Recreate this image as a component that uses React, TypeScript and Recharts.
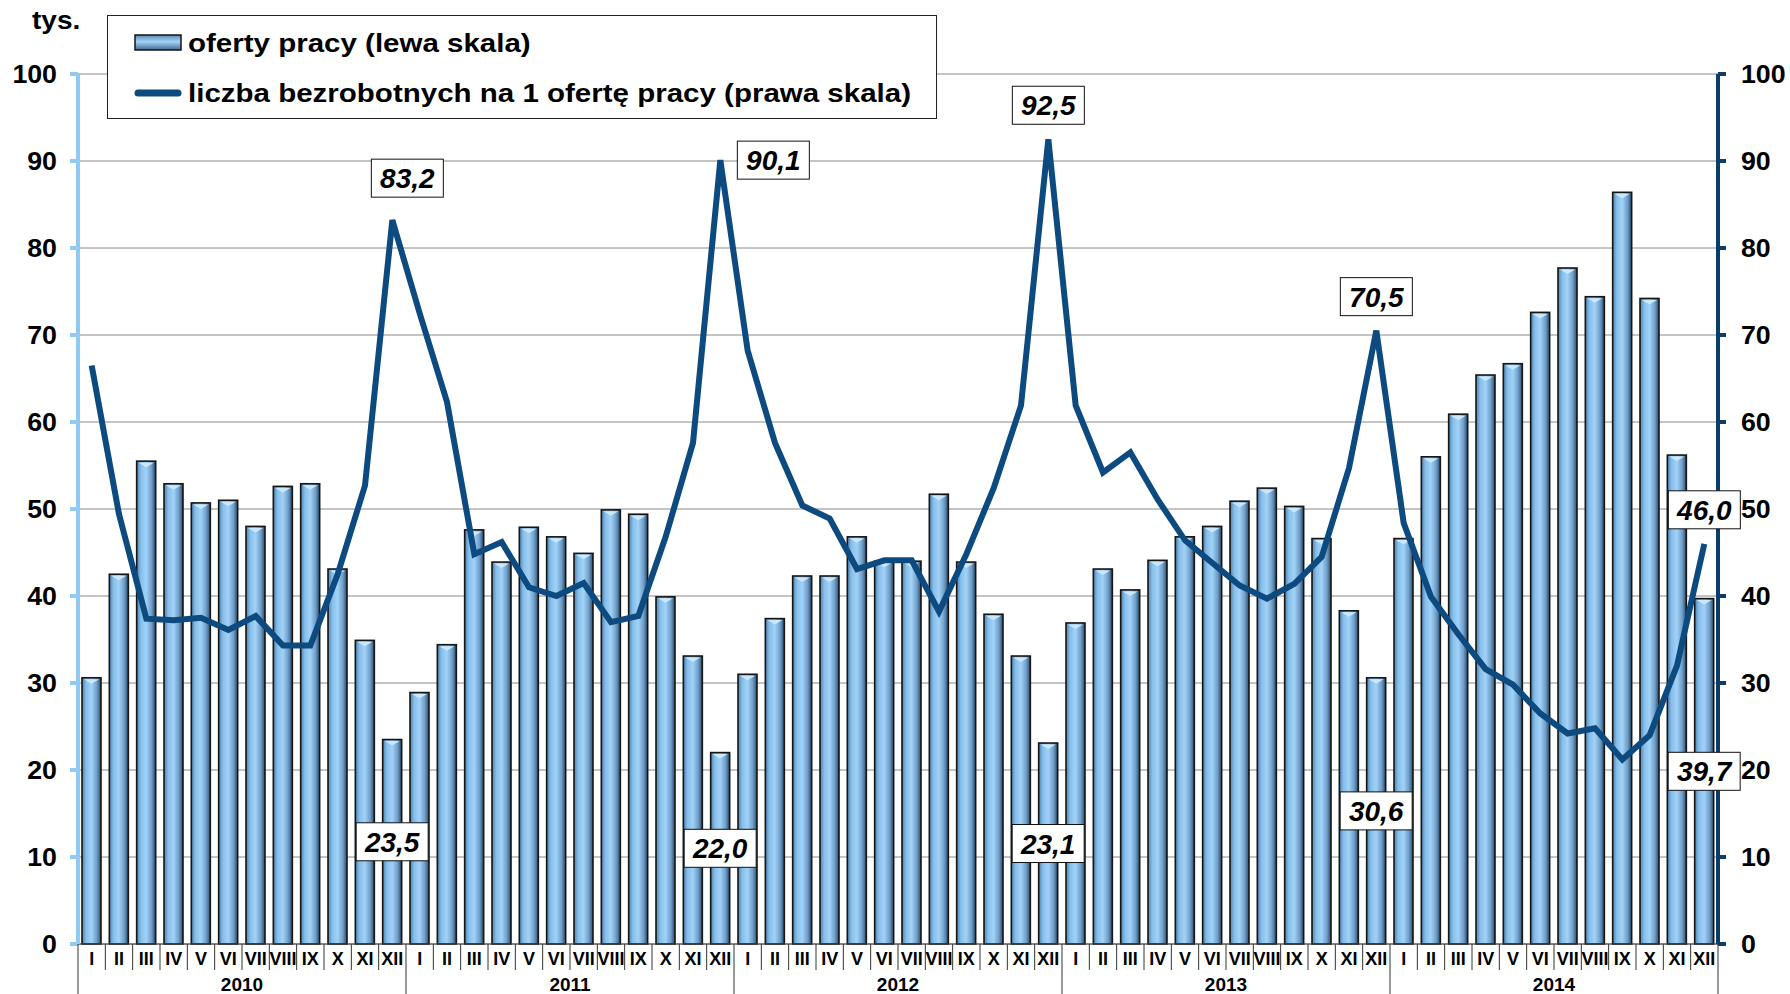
import React from 'react';
import {
  ComposedChart,
  Bar,
  Line,
  XAxis,
  YAxis,
  CartesianGrid,
  Legend,
  LabelList,
} from 'recharts';

const months = ['I', 'II', 'III', 'IV', 'V', 'VI', 'VII', 'VIII', 'IX', 'X', 'XI', 'XII'];
const years = ['2010', '2011', '2012', '2013', '2014'];

// oferty pracy, tys. (lewa skala)
const jobOffers = [
  30.6, 42.5, 55.5, 52.9, 50.7, 51.0, 48.0, 52.6, 52.9, 43.1, 34.9, 23.5,
  28.9, 34.4, 47.6, 43.9, 47.9, 46.8, 44.9, 49.9, 49.4, 39.9, 33.1, 22.0,
  31.0, 37.4, 42.3, 42.3, 46.8, 44.0, 44.0, 51.7, 43.9, 37.9, 33.1, 23.1,
  36.9, 43.1, 40.7, 44.1, 46.8, 48.0, 50.9, 52.4, 50.3, 46.6, 38.3, 30.6,
  46.6, 56.0, 60.9, 65.4, 66.7, 72.6, 77.7, 74.4, 86.4, 74.2, 56.2, 39.7,
];

// liczba bezrobotnych na 1 ofertę pracy (prawa skala)
const unemployedPerOffer = [
  66.5, 49.4, 37.4, 37.2, 37.5, 36.1, 37.7, 34.3, 34.3, 42.5, 52.7, 83.2,
  72.5, 62.3, 44.8, 46.2, 41.0, 40.0, 41.5, 37.0, 37.7, 46.8, 57.6, 90.1,
  68.2, 57.6, 50.4, 48.9, 43.1, 44.1, 44.1, 38.2, 44.8, 52.4, 61.9, 92.5,
  61.9, 54.2, 56.5, 51.1, 46.4, 43.8, 41.2, 39.7, 41.4, 44.5, 54.7, 70.5,
  48.4, 39.9, 35.6, 31.6, 29.8, 26.5, 24.2, 24.8, 21.2, 24.0, 32.0, 46.0,
];

const axisTicks = [0, 10, 20, 30, 40, 50, 60, 70, 80, 90, 100];

const data = jobOffers.map((v, i) => ({
  id: `${years[Math.floor(i / 12)]}-${months[i % 12]}`,
  month: months[i % 12],
  year: years[Math.floor(i / 12)],
  offers: v,
  ratio: unemployedPerOffer[i],
}));

const W = 1790;
const H = 994;
const LEFT_W = 78;
const RIGHT_W = 72;
const TOP = 74;
const X_H = 50;
const bandWidth = (W - LEFT_W - RIGHT_W) / data.length;

const FONT = '"Liberation Sans", Arial, sans-serif';
const LINE_COLOR = '#0c4a7f';

const fmt = (v: number) => v.toFixed(1).replace('.', ',');
const isDecember = (i: number) => i % 12 === 11;

// nudges for the boxed labels on the line
const lineLabelShift: Record<number, { dx: number; dy: number }> = {
  11: { dx: 15, dy: -42 },
  23: { dx: 53, dy: 0 },
};

const ValueBox = ({ cx, cy, text }: { cx: number; cy: number; text: string }) => (
  <g>
    <rect x={cx - 36} y={cy - 19} width={72} height={38} fill="#fff" stroke="#111" strokeWidth={1} />
    <text
      x={cx}
      y={cy + 10}
      textAnchor="middle"
      fontFamily={FONT}
      fontWeight="bold"
      fontStyle="italic"
      fontSize={28}
      fill="#000"
    >
      {text}
    </text>
  </g>
);

const LineLabel = (props: any) => {
  const { x, y, value, index } = props;
  if (!isDecember(index)) return null;
  const s = lineLabelShift[index] || { dx: 0, dy: -34 };
  return <ValueBox cx={x + s.dx} cy={y + s.dy} text={fmt(value)} />;
};

const BarLabel = (props: any) => {
  const { x, y, width, height, value, index } = props;
  if (!isDecember(index)) return null;
  return <ValueBox cx={x + width / 2} cy={y + height / 2} text={fmt(value)} />;
};

const BarShape = (props: any) => {
  const { x, y, width, height } = props;
  if (!height || height <= 0) return null;
  return (
    <g>
      <rect x={x} y={y} width={width} height={height} fill="url(#barGrad)" stroke="#151515" strokeWidth={1.6} />
      <polygon
        points={`${x + 2},${y + 1.5} ${x + width - 2},${y + 1.5} ${x + width / 2},${y + 6}`}
        fill="#c9e8fc"
      />
    </g>
  );
};

const AxisTick = (props: any) => {
  const { x, y, payload, textAnchor } = props;
  return (
    <text
      x={x}
      y={y + 9}
      textAnchor={textAnchor}
      fontFamily={FONT}
      fontWeight="bold"
      fontSize={25}
      fill="#000"
      transform={`translate(${x} 0) scale(1.07 1) translate(${-x} 0)`}
    >
      {payload.value}
    </text>
  );
};

const MonthTick = (props: any) => {
  const { x, y, payload, index } = props;
  const i = typeof index === 'number' ? index : payload.index;
  const d = data[i];
  if (!d) return null;
  const left = x - bandWidth / 2;
  const right = x + bandWidth / 2;
  const yearStart = i % 12 === 0;
  const last = i === data.length - 1;
  return (
    <g>
      <line x1={left} y1={y} x2={left} y2={y + (yearStart ? 50 : 26)} stroke="#333" strokeWidth={1} />
      {last && <line x1={right} y1={y} x2={right} y2={y + 50} stroke="#333" strokeWidth={1} />}
      <text x={x} y={y + 21} textAnchor="middle" fontFamily={FONT} fontWeight="bold" fontSize={18} fill="#000">
        {d.month}
      </text>
      {i % 12 === 5 && (
        <text x={right} y={y + 47} textAnchor="middle" fontFamily={FONT} fontWeight="bold" fontSize={19} fill="#000">
          {d.year}
        </text>
      )}
    </g>
  );
};

const stretched: React.CSSProperties = {
  display: 'inline-block',
  transform: 'scaleX(1.18)',
  transformOrigin: 'left center',
  whiteSpace: 'nowrap',
};

const LegendBox = () => (
  <div
    style={{
      width: 830,
      height: 104,
      border: '1.5px solid #222',
      background: '#fff',
      fontFamily: FONT,
      fontWeight: 'bold',
      fontSize: 25,
      color: '#000',
      boxSizing: 'border-box',
    }}
  >
    <div style={{ display: 'flex', alignItems: 'center', height: 54, paddingLeft: 26 }}>
      <svg width={50} height={20} style={{ marginRight: 4 }}>
        <defs>
          <linearGradient id="legendGrad" x1="0" y1="0" x2="0" y2="1">
            <stop offset="0%" stopColor="#5c8cb8" />
            <stop offset="45%" stopColor="#a4d3f5" />
            <stop offset="100%" stopColor="#3f6a92" />
          </linearGradient>
        </defs>
        <rect x={1} y={2} width={46} height={15} fill="url(#legendGrad)" stroke="#151515" strokeWidth={1.5} />
      </svg>
      <span style={stretched}>oferty pracy (lewa skala)</span>
    </div>
    <div style={{ display: 'flex', alignItems: 'center', height: 46, paddingLeft: 26 }}>
      <svg width={50} height={20} style={{ marginRight: 4 }}>
        <line x1={4} y1={10} x2={44} y2={10} stroke={LINE_COLOR} strokeWidth={7} strokeLinecap="round" />
      </svg>
      <span style={stretched}>liczba bezrobotnych na 1 ofertę pracy (prawa skala)</span>
    </div>
  </div>
);

export default function App() {
  return (
    <div style={{ position: 'absolute', left: 0, top: 0, width: W, height: H, background: '#fff' }}>
      <div
        style={{
          position: 'absolute',
          left: 32,
          top: 6,
          fontFamily: FONT,
          fontWeight: 'bold',
          fontSize: 25,
          zIndex: 2,
          transform: 'scaleX(1.12)',
          transformOrigin: 'left center',
        }}
      >
        tys.
      </div>
      <ComposedChart
        width={W}
        height={H}
        data={data}
        margin={{ top: TOP, right: 0, bottom: 0, left: 0 }}
        barSize={19}
      >
        <defs>
          <linearGradient id="barGrad" x1="0" y1="0" x2="1" y2="0">
            <stop offset="0%" stopColor="#4f7fac" />
            <stop offset="22%" stopColor="#86bfeb" />
            <stop offset="50%" stopColor="#a2d2f6" />
            <stop offset="78%" stopColor="#6f9fca" />
            <stop offset="100%" stopColor="#2c4a68" />
          </linearGradient>
        </defs>
        <CartesianGrid vertical={false} stroke="#8a8a8a" strokeWidth={1} yAxisId="left" />
        <XAxis
          dataKey="id"
          height={X_H}
          interval={0}
          tick={<MonthTick />}
          tickLine={false}
          tickSize={0}
          tickMargin={0}
          axisLine={{ stroke: '#444', strokeWidth: 1 }}
        />
        <YAxis
          yAxisId="left"
          orientation="left"
          width={LEFT_W}
          domain={[0, 100]}
          ticks={axisTicks}
          interval={0}
          tickSize={8}
          tickMargin={13}
          axisLine={{ stroke: '#8fcaf5', strokeWidth: 4 }}
          tickLine={{ stroke: '#8fcaf5', strokeWidth: 4 }}
          tick={<AxisTick />}
        />
        <YAxis
          yAxisId="right"
          orientation="right"
          width={RIGHT_W}
          domain={[0, 100]}
          ticks={axisTicks}
          interval={0}
          tickSize={8}
          tickMargin={15}
          axisLine={{ stroke: '#0b3d6b', strokeWidth: 4 }}
          tickLine={{ stroke: '#0b3d6b', strokeWidth: 4 }}
          tick={<AxisTick />}
        />
        <Legend
          verticalAlign="middle"
          align="center"
          content={() => <LegendBox />}
          wrapperStyle={{ position: 'absolute', left: 107, top: 15, width: 830, height: 104 }}
        />
        <Bar yAxisId="left" dataKey="offers" shape={<BarShape />} isAnimationActive={false}>
          <LabelList dataKey="offers" position="center" content={<BarLabel />} />
        </Bar>
        <Line
          yAxisId="right"
          type="linear"
          dataKey="ratio"
          stroke={LINE_COLOR}
          strokeWidth={6}
          dot={false}
          activeDot={false}
          isAnimationActive={false}
        >
          <LabelList dataKey="ratio" content={<LineLabel />} />
        </Line>
      </ComposedChart>
    </div>
  );
}
